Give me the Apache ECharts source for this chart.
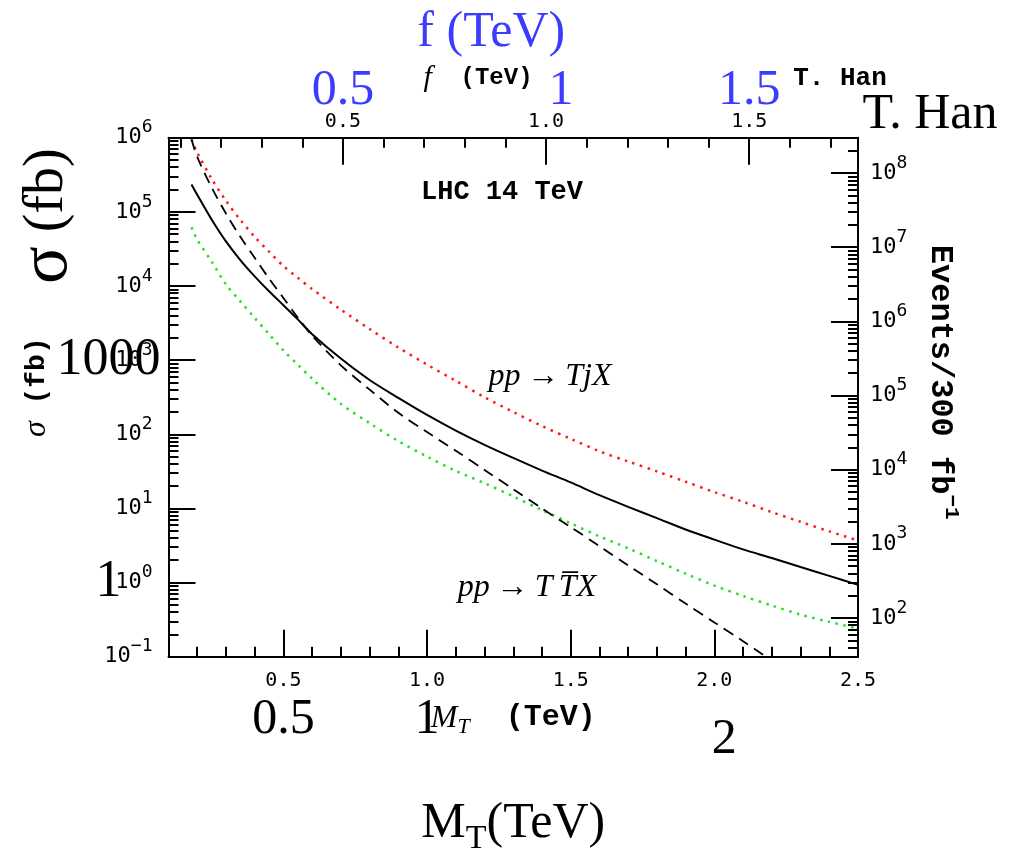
<!DOCTYPE html>
<html lang="en">
<head>
<meta charset="UTF-8">
<title>Heavy T production at the LHC</title>
<script src="https://cdn.jsdelivr.net/npm/echarts@6.0.0/dist/echarts.min.js"></script>
<style>
  html, body { margin: 0; padding: 0; background: #fff; }
  #main { width: 1017px; height: 854px; }
</style>
</head>
<body>
<div id="main"></div>
<script>
// M_T values (TeV) shared by the full-range curves
const mT = [0.18, 0.2, 0.25, 0.3, 0.35, 0.4, 0.45, 0.5, 0.55, 0.6, 0.7, 0.8, 0.9, 1.0,
  1.1, 1.2, 1.3, 1.4, 1.5, 1.6, 1.7, 1.8, 1.9, 2.0, 2.1, 2.2, 2.3, 2.4, 2.5];
// sigma (fb), pp -> TjX (red dotted)
const sigmaTjX = [9.5e5, 6.3e5, 2.8e5, 1.41e5, 7.8e4, 4.6e4, 2.9e4, 1.86e4, 1.29e4, 9100, 4800,
  2630, 1480, 870, 525, 316, 200, 129, 87, 59, 43, 31.6, 22.9, 16.6, 12.3, 8.9, 6.6, 4.9, 3.7];
// sigma (fb), black solid
const sigmaSolid = [2.34e5, 1.7e5, 7.9e4, 4.0e4, 2.24e4, 1.35e4, 8500, 5500, 3550, 2240, 1050,
  540, 309, 182, 112, 72, 48, 32.4, 22.4, 15.1, 10.5, 7.4, 5.2, 3.8, 2.8, 2.14, 1.62, 1.23, 0.93];
// sigma (fb), green dotted
const sigmaGreen = [6.2e4, 4.2e4, 2.14e4, 1.05e4, 6200, 3700, 2240, 1350, 870, 560, 257,
  141, 81, 50, 32, 21.9, 14.5, 9.5, 6.3, 4.2, 2.9, 1.95, 1.32, 0.91, 0.66, 0.49, 0.37, 0.295, 0.24];
// pp -> T Tbar X (black dashed), runs off the bottom near 2.18 TeV
const mTPair = [0.18, 0.2, 0.25, 0.3, 0.35, 0.4, 0.45, 0.5, 0.55, 0.6, 0.7, 0.8, 0.9, 1.0,
  1.1, 1.2, 1.3, 1.4, 1.5, 1.6, 1.7, 1.8, 1.9, 2.0, 2.1, 2.18];
const sigmaPair = [9.5e5, 5.5e5, 2.14e5, 9.5e4, 4.6e4, 2.4e4, 1.26e4, 6900, 3750, 2140, 850,
  400, 195, 107, 60, 33, 18.2, 10, 5.6, 3.1, 1.7, 0.95, 0.52, 0.29, 0.162, 0.1];

// axis ticks / labels
const mTMajor = [0.5, 1.0, 1.5, 2.0];
const mTLabels = [0.5, 1.0, 1.5, 2.0, 2.5];
const mTMinor = [0.2, 0.3, 0.4, 0.6, 0.7, 0.8, 0.9, 1.1, 1.2, 1.3, 1.4, 1.6, 1.7, 1.8, 1.9,
  2.1, 2.2, 2.3, 2.4];
const mTBigLabels = [0.5, 1, 2];
const fMajor = [0.5, 1.0, 1.5];
const fMinor = [0.1, 0.2, 0.3, 0.4, 0.6, 0.7, 0.8, 0.9, 1.1, 1.2, 1.3, 1.4, 1.6, 1.7];
const fBigLabels = [0.5, 1, 1.5];
const sigmaDecades = [0.1, 1, 10, 100, 1e3, 1e4, 1e5, 1e6];
const sigmaBigLabels = [1, 1000];
const eventDecades = [1e2, 1e3, 1e4, 1e5, 1e6, 1e7, 1e8];
const lumi = 300; // fb^-1

const SIG_MIN = 0.1, SIG_MAX = 1e6;
const MT_MIN = 0.1, MT_MAX = 2.5;

function logMinors(lo, hi) {
  const out = [];
  for (let e = -2; e <= 9; e++) {
    for (let m = 2; m <= 9; m++) {
      const v = m * Math.pow(10, e);
      if (v > lo && v < hi) out.push(v);
    }
  }
  return out;
}

const mono = '"DejaVu Sans Mono", monospace';
const typew = '"Liberation Mono", monospace';
const serif = '"Liberation Serif", serif';
const blue = '#3c3cff';

function powLabel(v) {
  const e = Math.round(Math.log10(v));
  return '{b|10}{s|' + (e < 0 ? '\u2212' + (-e) : e) + '}';
}
const powRich = {
  b: { fontFamily: mono, fontSize: 22, lineHeight: 22, verticalAlign: 'bottom', color: '#000' },
  s: { fontFamily: mono, fontSize: 18, lineHeight: 30, verticalAlign: 'top', color: '#000' }
};

const frameLine = { show: true, onZero: false, lineStyle: { color: '#000', width: 2 } };
const noLine = { show: false };
const majorTick = (vals) => ({ show: true, inside: true, length: 27, customValues: vals,
  lineStyle: { color: '#000', width: 2 } });
const minorTick = (vals) => ({ show: true, inside: true, length: 10, customValues: vals,
  lineStyle: { color: '#000', width: 2 } });
const common = { splitLine: { show: false }, nameMoveOverlap: false };

const chart = echarts.init(document.getElementById('main'));
const option = {
  animation: false,
  backgroundColor: '#fff',
  grid: { left: 168.5, top: 137.7, right: 159, bottom: 197.3, outerBoundsMode: 'none' },
  xAxis: [
    { ...common, type: 'value', position: 'bottom', min: MT_MIN, max: MT_MAX,
      axisLine: frameLine, axisTick: majorTick(mTMajor),
      axisLabel: { customValues: mTLabels, formatter: v => v.toFixed(1), margin: 14,
        fontFamily: mono, fontSize: 20, color: '#000' },
      name: '{mi|M}{sub|T}{m|  (TeV)}', nameLocation: 'middle', nameGap: 46,
      nameTextStyle: { rich: {
        mi: { fontFamily: serif, fontStyle: 'italic', fontSize: 32, verticalAlign: 'top', color: '#000' },
        sub: { fontFamily: serif, fontStyle: 'italic', fontSize: 22, lineHeight: 36, verticalAlign: 'bottom', color: '#000' },
        m: { fontFamily: typew, fontWeight: 'bold', fontSize: 30, verticalAlign: 'top', color: '#000' }
      } } },
    { ...common, type: 'value', position: 'bottom', min: MT_MIN, max: MT_MAX,
      axisLine: noLine, axisTick: minorTick(mTMinor), axisLabel: { show: false } },
    { ...common, type: 'value', position: 'bottom', min: MT_MIN, max: MT_MAX,
      axisLine: noLine, axisTick: { show: false },
      axisLabel: { customValues: mTBigLabels, margin: 38,
        formatter: v => (v === 2 ? '{low|2}' : '{n|' + v + '}'),
        rich: {
          n: { fontFamily: serif, fontSize: 50, lineHeight: 50, verticalAlign: 'top', color: '#000' },
          low: { fontFamily: serif, fontSize: 50, lineHeight: 70, verticalAlign: 'bottom', color: '#000',
            padding: [0, 0, 0, 20] }
        } },
      name: '{m|M}{t|T}{m|(TeV)}', nameLocation: 'middle', nameGap: 142,
      nameTextStyle: { rich: {
        m: { fontFamily: serif, fontSize: 50, verticalAlign: 'top', color: '#000' },
        t: { fontFamily: serif, fontSize: 34, lineHeight: 57, verticalAlign: 'bottom', color: '#000' }
      } } },
    { ...common, type: 'value', position: 'top', min: MT_MIN / Math.SQRT2, max: MT_MAX / Math.SQRT2,
      axisLine: frameLine, axisTick: majorTick(fMajor),
      axisLabel: { customValues: fMajor, formatter: v => v.toFixed(1), margin: 6,
        fontFamily: mono, fontSize: 20, color: '#000' } },
    { ...common, type: 'value', position: 'top', min: MT_MIN / Math.SQRT2, max: MT_MAX / Math.SQRT2,
      axisLine: noLine, axisTick: minorTick(fMinor), axisLabel: { show: false } },
    { ...common, type: 'value', position: 'top', min: MT_MIN / Math.SQRT2, max: MT_MAX / Math.SQRT2,
      axisLine: noLine, axisTick: { show: false },
      axisLabel: { customValues: fBigLabels, margin: 22,
        formatter: v => (v === 1 ? '{r|1}' : '{n|' + v + '}'),
        rich: {
          n: { fontFamily: serif, fontSize: 50, color: blue },
          r: { fontFamily: serif, fontSize: 50, color: blue, padding: [0, 0, 0, 30] }
        } },
      name: 'f (TeV)', nameLocation: 'middle', nameGap: 80,
      nameTextStyle: { fontFamily: serif, fontSize: 50, color: blue, padding: [0, 44, 0, 0] } }
  ],
  yAxis: [
    { ...common, type: 'log', position: 'left', min: SIG_MIN, max: SIG_MAX,
      axisLine: frameLine, axisTick: majorTick(sigmaDecades),
      axisLabel: { customValues: sigmaDecades, formatter: powLabel, margin: 16,
        padding: [0, 0, 8, 0], rich: powRich },
      name: '{g|\u03c3}{m| (fb)}', nameLocation: 'middle', nameGap: 116,
      nameTextStyle: { padding: [0, 0, 0, 20], rich: {
        g: { fontFamily: serif, fontStyle: 'italic', fontSize: 32, color: '#000' },
        m: { fontFamily: typew, fontWeight: 'bold', fontSize: 28, color: '#000' }
      } } },
    { ...common, type: 'log', position: 'left', min: SIG_MIN, max: SIG_MAX,
      axisLine: noLine, axisTick: minorTick(logMinors(SIG_MIN, SIG_MAX)), axisLabel: { show: false } },
    { ...common, type: 'log', position: 'left', min: SIG_MIN, max: SIG_MAX,
      axisLine: noLine, axisTick: { show: false },
      axisLabel: { customValues: sigmaBigLabels, formatter: v => String(v), margin: 60,
        align: 'center', fontFamily: serif, fontSize: 52, color: '#000' },
      name: '{g|\u03c3}{p| (fb)}', nameLocation: 'middle', nameGap: 86,
      nameTextStyle: { padding: [0, 0, 0, 362], rich: {
        g: { fontFamily: serif, fontSize: 70, color: '#000' },
        p: { fontFamily: serif, fontSize: 56, color: '#000' }
      } } },
    { ...common, type: 'log', position: 'right', min: SIG_MIN * lumi, max: SIG_MAX * lumi,
      axisLine: frameLine, axisTick: majorTick(eventDecades),
      axisLabel: { customValues: eventDecades, formatter: powLabel, margin: 12,
        padding: [0, 0, 8, 0], rich: powRich },
      name: '{m|Events/300 fb}{s|\u22121}', nameLocation: 'middle', nameGap: 66, nameRotate: -90,
      nameTextStyle: { padding: [0, 30, 0, 0], rich: {
        m: { fontFamily: typew, fontWeight: 'bold', fontSize: 32, lineHeight: 32, verticalAlign: 'bottom', color: '#000' },
        s: { fontFamily: typew, fontWeight: 'bold', fontSize: 21, lineHeight: 38, verticalAlign: 'top', color: '#000' }
      } } },
    { ...common, type: 'log', position: 'right', min: SIG_MIN * lumi, max: SIG_MAX * lumi,
      axisLine: noLine, axisTick: minorTick(logMinors(SIG_MIN * lumi, SIG_MAX * lumi)),
      axisLabel: { show: false } }
  ],
  graphic: [
    { type: 'text', x: 502, y: 192, style: { text: 'LHC 14 TeV', font: 'bold 27px "Liberation Mono"',
      fill: '#000', align: 'center', verticalAlign: 'middle' } },
    { type: 'text', x: 550, y: 377, style: { text: 'pp\u2009\u2192\u2009TjX',
      font: 'italic 32px "Liberation Serif"', fill: '#000', align: 'center', verticalAlign: 'middle' } },
    { type: 'text', x: 527, y: 588, style: { text: 'pp\u2009\u2192\u2009T\u2009T\u0305X',
      font: 'italic 32px "Liberation Serif"', fill: '#000', align: 'center', verticalAlign: 'middle' } },
    { type: 'text', x: 840, y: 78, style: { text: 'T. Han', font: 'bold 26px "Liberation Mono"',
      fill: '#000', align: 'center', verticalAlign: 'middle' } },
    { type: 'text', x: 478, y: 78, style: { text: '{f|f}{m|  (TeV)}', align: 'center', verticalAlign: 'middle',
      rich: {
        f: { fontFamily: serif, fontStyle: 'italic', fontSize: 30, fill: '#000' },
        m: { fontFamily: typew, fontWeight: 'bold', fontSize: 24, fill: '#000' }
      } } },
    { type: 'text', x: 930, y: 115, style: { text: 'T. Han', font: '50px "Liberation Serif"',
      fill: '#000', align: 'center', verticalAlign: 'middle' } }
  ],
  series: [
    { name: 'pp\u2192TjX', type: 'line', xAxisIndex: 0, yAxisIndex: 0, showSymbol: false, smooth: 0.3,
      data: mT.map((x, i) => [x, sigmaTjX[i]]),
      lineStyle: { color: '#ff1a1a', width: 2.5, type: [2.5, 5.5] } },
    { name: 'solid', type: 'line', xAxisIndex: 0, yAxisIndex: 0, showSymbol: false, smooth: 0.3,
      data: mT.map((x, i) => [x, sigmaSolid[i]]),
      lineStyle: { color: '#000', width: 2 } },
    { name: 'green', type: 'line', xAxisIndex: 0, yAxisIndex: 0, showSymbol: false, smooth: 0.3,
      data: mT.map((x, i) => [x, sigmaGreen[i]]),
      lineStyle: { color: '#22e022', width: 2.5, type: [2.5, 5.5] } },
    { name: 'pp\u2192TTX', type: 'line', xAxisIndex: 0, yAxisIndex: 0, showSymbol: false, smooth: 0.3,
      data: mTPair.map((x, i) => [x, sigmaPair[i]]),
      lineStyle: { color: '#000', width: 1.8, type: [11, 7] } }
  ]
};
chart.setOption(option);
</script>
</body>
</html>
